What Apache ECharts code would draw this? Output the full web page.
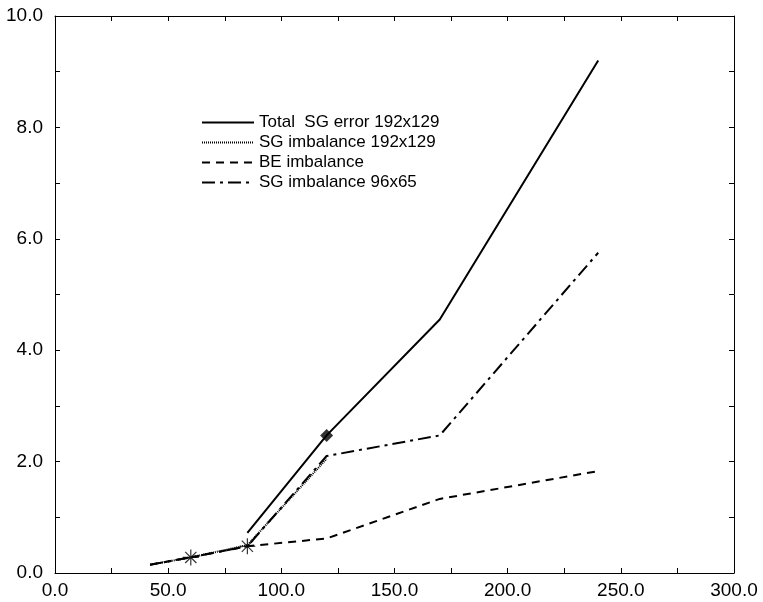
<!DOCTYPE html>
<html>
<head>
<meta charset="utf-8">
<title>SG imbalance</title>
<script src="https://cdn.jsdelivr.net/npm/echarts@6/dist/echarts.min.js"></script>
<style>
  html, body { margin: 0; padding: 0; background: #fff; }
  #chart { width: 763px; height: 602px; }
</style>
</head>
<body>
<div id="chart"></div>
<script>
// values
const xTotal = [85, 120, 170, 240];
const yTotal = [0.72, 2.47, 4.55, 9.2];

const xSg192 = [42, 60, 85, 120];
const ySg192 = [0.15, 0.28, 0.5, 2.05];

const xBe = [42, 60, 85, 120, 170, 240];
const yBe = [0.15, 0.28, 0.48, 0.62, 1.33, 1.83];

const xSg96 = [42, 60, 85, 120, 170, 240];
const ySg96 = [0.15, 0.28, 0.48, 2.1, 2.47, 5.75];

// marked points
const starX = [60, 85];
const starY = [0.28, 0.48];
const diamondX = [120];
const diamondY = [2.47];

const names = ['Total  SG error 192x129', 'SG imbalance 192x129', 'BE imbalance', 'SG imbalance 96x65'];

const pairs = (xs, ys) => xs.map((x, i) => [x, ys[i]]);
const star = 'path://M0,-10L0,10M-10,0L10,0M-7,-7L7,7M-7,7L7,-7';
const font = 'Liberation Sans, Arial, Helvetica, sans-serif';

let mycharts = echarts.init(document.getElementById('chart'));

// ticks every half step, labels only on the main step
function axisBase() {
  return {
    axisLine: { show: true, onZero: false, lineStyle: { color: '#000', width: 1 } },
    axisTick: { show: true, inside: true, length: 5, lineStyle: { color: '#000' } },
    splitLine: { show: false }
  };
}

mycharts.setOption({
  animation: false,
  backgroundColor: '#fff',
  textStyle: { fontFamily: font },
  grid: { left: 55, right: 29, top: 16, bottom: 29 },
  legend: {
    data: names,
    orient: 'vertical',
    left: 196,
    top: 109,
    itemWidth: 52,
    itemHeight: 10,
    itemGap: 3,
    itemStyle: { opacity: 0 },
    textStyle: { fontSize: 17, color: '#000', fontFamily: font }
  },
  xAxis: [
    Object.assign(axisBase(), {
      type: 'value', min: 0, max: 300, interval: 25, position: 'bottom',
      axisLabel: { color: '#000', fontSize: 19, margin: 8, formatter: v => v % 50 === 0 ? v.toFixed(1) : '' }
    }),
    Object.assign(axisBase(), {
      type: 'value', min: 0, max: 300, interval: 25, position: 'top',
      axisLabel: { show: false }
    })
  ],
  yAxis: [
    Object.assign(axisBase(), {
      type: 'value', min: 0, max: 10, interval: 1, position: 'left',
      axisLabel: { color: '#000', fontSize: 19, margin: 12, formatter: v => v % 2 === 0 ? v.toFixed(1) : '' }
    }),
    Object.assign(axisBase(), {
      type: 'value', min: 0, max: 10, interval: 1, position: 'right',
      axisLabel: { show: false }
    })
  ],
  series: [
    {
      name: names[0], type: 'line', symbol: 'none', data: pairs(xTotal, yTotal),
      lineStyle: { color: '#000', width: 2, type: 'solid' }, itemStyle: { color: '#000' }
    },
    {
      name: names[1], type: 'line', symbol: 'none', data: pairs(xSg192, ySg192),
      lineStyle: { color: '#000', width: 2, type: [1, 1] }, itemStyle: { color: '#000' }
    },
    {
      name: names[2], type: 'line', symbol: 'none', data: pairs(xBe, yBe),
      lineStyle: { color: '#000', width: 2, type: [8, 6] }, itemStyle: { color: '#000' }
    },
    {
      name: names[3], type: 'line', symbol: 'none', data: pairs(xSg96, ySg96),
      lineStyle: { color: '#000', width: 2, type: [13, 5, 3, 5] }, itemStyle: { color: '#000' }
    },
    {
      type: 'scatter', data: pairs(starX, starY), symbol: star, symbolSize: 16,
      itemStyle: { color: '#000', borderColor: '#000', borderWidth: 1.2 }
    },
    {
      type: 'scatter', data: pairs(diamondX, diamondY), symbol: 'diamond', symbolSize: 13,
      itemStyle: { color: '#000' }
    }
  ]
});
</script>
</body>
</html>
